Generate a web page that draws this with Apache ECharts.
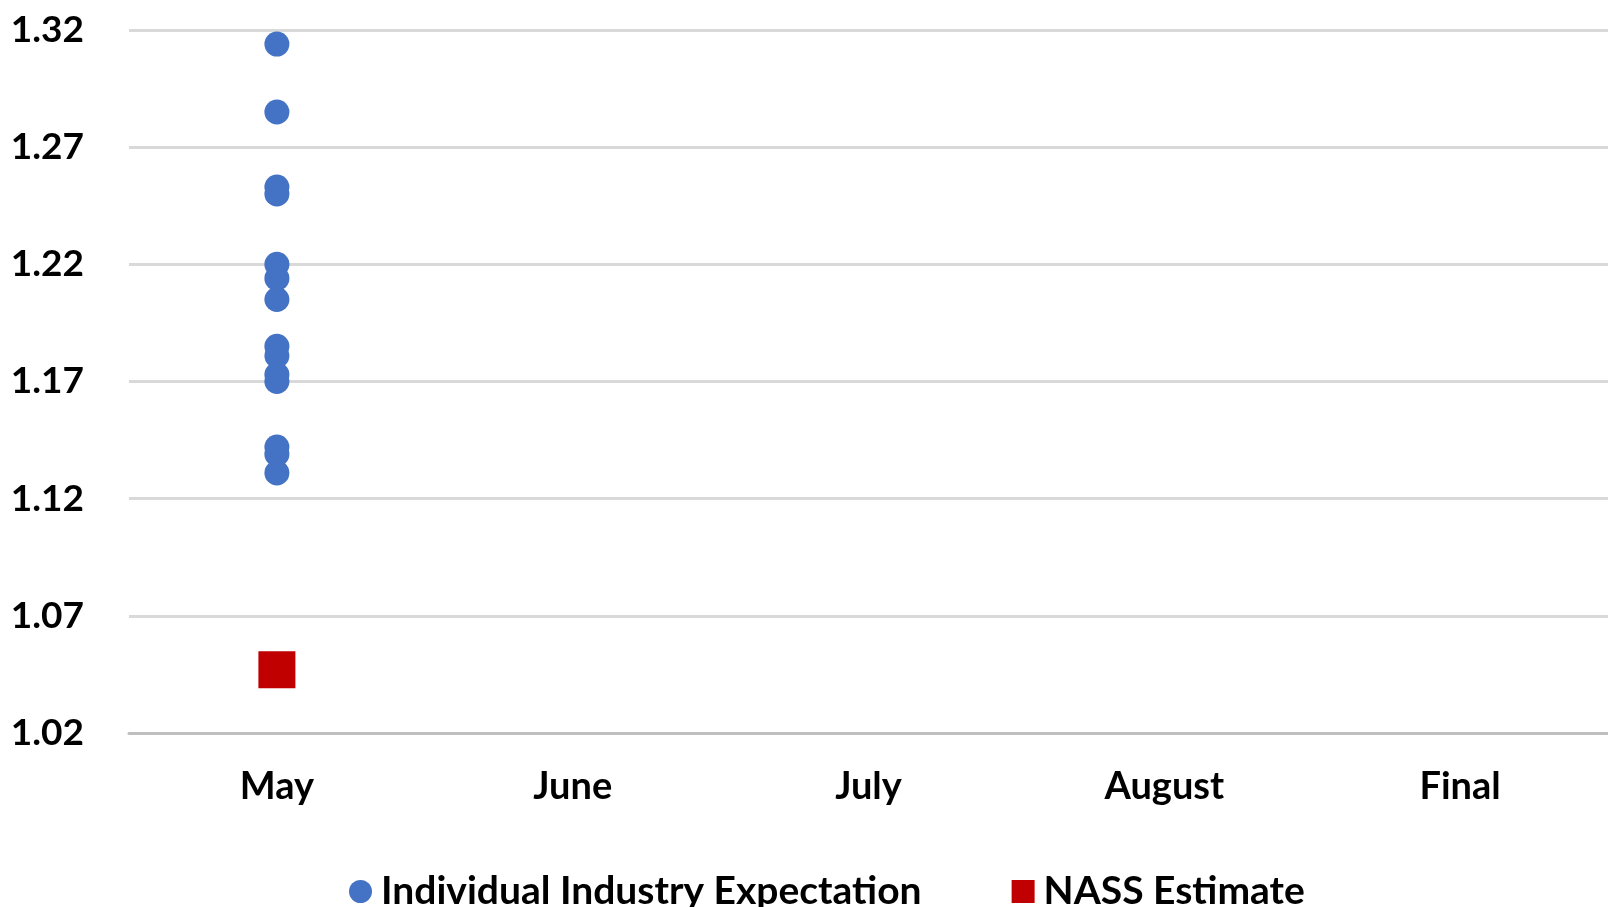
<!DOCTYPE html>
<html>
<head>
<meta charset="utf-8">
<script src="https://cdn.jsdelivr.net/npm/echarts@6/dist/echarts.min.js"></script>
<style>
  html, body { margin: 0; padding: 0; background: #fff; }
  #chart { width: 1608px; height: 907px; }
</style>
</head>
<body>
<div id="chart"></div>
<script>
// categories on the x axis
const months = ["May", "June", "July", "August", "Final"];
// individual industry expectations (all in May)
const industryMonth = "May";
const industryValues = [1.314, 1.285, 1.253, 1.250, 1.220, 1.214, 1.205,
  1.185, 1.181, 1.173, 1.170, 1.142, 1.139, 1.131];
// NASS estimate
const nassMonth = "May";
const nassValues = [1.047];

const FONT = "Lato, 'Open Sans', sans-serif";

const chart = echarts.init(document.getElementById("chart"));
chart.setOption({
  animation: false,
  textStyle: { fontFamily: FONT },
  grid: { left: 129, right: 0, top: 30, bottom: 174 },
  xAxis: {
    type: "category",
    data: months,
    boundaryGap: true,
    axisLine: { lineStyle: { color: "#bfbfbf", width: 3 } },
    axisTick: { show: false },
    axisLabel: { color: "#000", fontSize: 38, fontWeight: "bold", margin: 35, fontFamily: FONT },
  },
  yAxis: {
    type: "value",
    min: 1.02,
    max: 1.32,
    interval: 0.05,
    axisLine: { show: false },
    axisTick: { show: false },
    splitLine: { lineStyle: { color: "#d9d9d9", width: 3 } },
    axisLabel: {
      color: "#000",
      fontSize: 37,
      fontWeight: "bold",
      margin: 45,
      fontFamily: FONT,
      formatter: (v) => v.toFixed(2),
    },
  },
  legend: {
    left: 344,
    top: 867,
    itemWidth: 23,
    itemHeight: 23,
    itemGap: 90,
    textStyle: { color: "#000", fontSize: 39, fontWeight: "bold", fontFamily: FONT, padding: [0, 0, 0, 4] },
    data: [
      { name: "Individual Industry Expectation", icon: "circle" },
      { name: "NASS Estimate", icon: "rect" },
    ],
  },
  series: [
    {
      name: "Individual Industry Expectation",
      type: "scatter",
      symbol: "circle",
      symbolSize: 25,
      itemStyle: { color: "#4472C4", opacity: 1 },
      data: industryValues.map((v) => [industryMonth, v]),
    },
    {
      name: "NASS Estimate",
      type: "scatter",
      symbol: "rect",
      symbolSize: 37,
      itemStyle: { color: "#C00000", opacity: 1 },
      data: nassValues.map((v) => [nassMonth, v]),
    },
  ],
});
</script>
</body>
</html>
